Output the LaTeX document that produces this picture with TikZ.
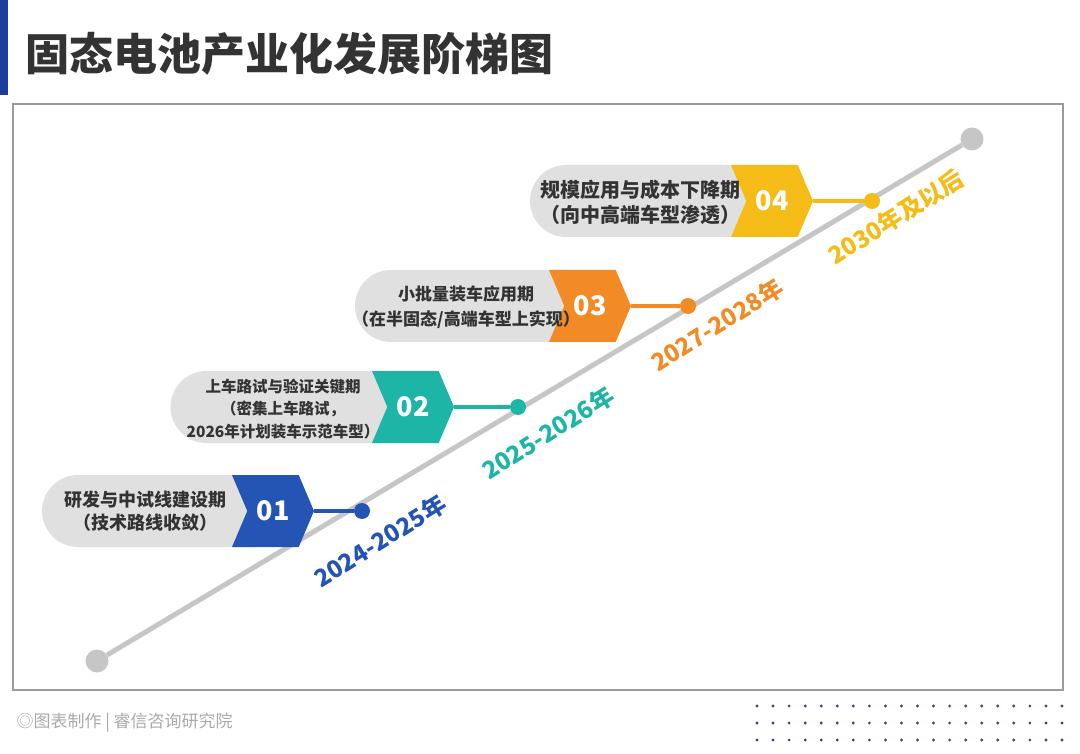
\documentclass[tikz,border=0pt]{standalone}
\usepackage{fontspec}
\setmainfont{Noto Sans CJK SC}
\usepackage{tikz}
\definecolor{Blu0}{RGB}{28,62,154}
\definecolor{Blu1}{RGB}{36,84,180}
\definecolor{Tel1}{RGB}{29,181,166}
\definecolor{Org1}{RGB}{242,139,37}
\definecolor{Ylw1}{RGB}{245,187,22}
\definecolor{Gry1}{RGB}{224,224,224}
\definecolor{Gry2}{RGB}{198,198,198}
\definecolor{Gry3}{RGB}{155,155,155}
\definecolor{Gry4}{RGB}{170,170,170}
\definecolor{Txt1}{RGB}{51,51,51}
\definecolor{Nvy1}{RGB}{64,66,128}
\usetikzlibrary{shapes.symbols, shapes.misc}

\tikzset{
    pill/.style={rounded rectangle, rounded rectangle right arc=none, fill=Gry1,
                 minimum height=72pt, inner sep=0pt},
    pilltxt/.style={align=center, text=Txt1, inner sep=0pt},
    chev/.style={signal, signal to=east, signal from=west, signal pointer angle=134,
                 fill=#1, minimum width=82pt, minimum height=72pt, inner sep=0pt,
                 text=white, font=\bfseries\fontsize{27}{27}\selectfont},
    dotc/.style={circle, fill=#1, minimum size=16pt, inner sep=0pt},
    yrlbl/.style={rotate=32, text=#1, font=\bfseries\fontsize{24}{24}\selectfont},
    link/.style={draw=#1, line width=4pt},
    endc/.style={circle, fill=Gry2, minimum size=23pt, inner sep=0pt}
}

\begin{document}
\begin{tikzpicture}[x=1pt, y=-1pt]
    \useasboundingbox (0,0) rectangle (1080,754);
    \fill[Blu0] (0,0) rectangle (8,95);
    \node[anchor=west, text=Txt1, font=\bfseries\fontsize{44}{44}\selectfont] (title) at (22,54) {固态电池产业化发展阶梯图};
    \draw[Gry3, line width=2pt] (13,104) rectangle (1063,690);

    % timeline
    \node[endc] (tl0) at (97,661) {};
    \node[endc] (tl1) at (972,139) {};
    \draw[Gry2, line width=5pt] (tl0) -- (tl1);

    % 01
    \node[pill, minimum width=208pt] (p1) at (146,511) {};
    \node[chev=Blu1] (c1) at (273,511) {01};
    \node[pilltxt, font=\bfseries\fontsize{18}{23}\selectfont] (t1) at (145,511)
        {研发与中试线建设期\\（技术路线收敛）};
    \node[dotc=Blu1] (d1) at (362,511) {};
    \draw[link=Blu1] (c1.east) -- (d1);
    \node[yrlbl=Blu1] (y1) at (380,541) {2024-2025年};

    % 02
    \node[pill, minimum width=221pt] (p2) at (281,407) {};
    \node[chev=Tel1] (c2) at (413,407) {02};
    \node[pilltxt, font=\bfseries\fontsize{15.5}{22.5}\selectfont] (t2) at (283,409)
        {上车路试与验证关键期\\（密集上车路试，\\2026年计划装车示范车型）};
    \node[dotc=Tel1] (d2) at (518,407) {};
    \draw[link=Tel1] (c2.east) -- (d2);
    \node[yrlbl=Tel1] (y2) at (548,433) {2025-2026年};

    % 03
    \node[pill, minimum width=212pt] (p3) at (461,306) {};
    \node[chev=Org1] (c3) at (590,306) {03};
    \node[pilltxt, font=\bfseries\fontsize{17}{25}\selectfont] (t3) at (466,307)
        {小批量装车应用期\\（在半固态/高端车型上实现）};
    \node[dotc=Org1] (d3) at (688,306) {};
    \draw[link=Org1] (c3.east) -- (d3);
    \node[yrlbl=Org1] (y3) at (717,325) {2027-2028年};

    % 04
    \node[pill, minimum width=218pt] (p4) at (639,201) {};
    \node[chev=Ylw1] (c4) at (772,201) {04};
    \node[pilltxt, font=\bfseries\fontsize{20}{25}\selectfont] (t4) at (640,202)
        {规模应用与成本下降期\\（向中高端车型渗透）};
    \node[dotc=Ylw1] (d4) at (872,201) {};
    \draw[link=Ylw1] (c4.east) -- (d4);
    \node[yrlbl=Ylw1] (y4) at (896,217) {2030年及以后};

    % footer
    \node[anchor=west, text=Gry4, font=\fontsize{17}{17}\selectfont] (src) at (13,723) {◎图表制作 | 睿信咨询研究院};
    \foreach \i in {0,...,19}
        \foreach \j in {0,1,2}
            \fill[Nvy1] ({757+16.05*\i},{706+17*\j}) circle (1.6pt);
\end{tikzpicture}
\end{document}
